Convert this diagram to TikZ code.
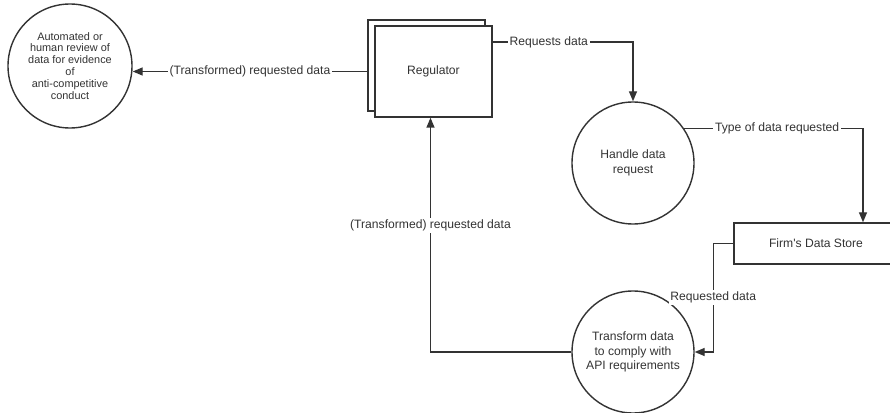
\documentclass[tikz,border=0pt]{standalone}
\usepackage{fontspec}
\setmainfont{Liberation Sans}[Ligatures=TeXOff]
\usetikzlibrary{arrows.meta,shadows}
\tikzset{node distance=2cm, auto, >={Triangle[length=2mm,width=1.6mm]}}
\tikzset{
  proc/.style={circle, draw=black!80, line width=0.8pt, align=center, inner sep=0pt, minimum size=2.44cm},
  store/.style={rectangle, draw=black!80, line width=0.8pt, fill=white},
  flow/.style={->, draw=black!80, line width=0.8pt},
  lbl/.style={fill=white, inner sep=1pt, anchor=center}
}

\begin{document}
\begin{tikzpicture}[every node/.style={font=\fontsize{6.9}{8.2}\selectfont, text=black!80}]
  \useasboundingbox (0,0) rectangle (17.8,-8.26);

  \node (R) [store, minimum width=2.34cm, minimum height=1.82cm,
    copy shadow={shadow xshift=-0.14cm, shadow yshift=0.12cm, draw=black!80, line width=0.8pt}]
    at (8.67,-1.43) {Regulator};
  \node (V) [proc, minimum size=2.48cm, font=\fontsize{6.2}{6.8}\selectfont] at (1.4,-1.32)
    {Automated or\\human review of\\data for evidence\\of\\anti-competitive\\conduct};
  \node (H) [proc] at (12.66,-3.26) {Handle data\\request};
  \node (T) [proc, below of=H, node distance=3.78cm] {Transform data\\to comply with\\API requirements};
  \node (F) [store, minimum width=3.28cm, minimum height=0.82cm] at (16.32,-4.87) {Firm's Data Store};

  \draw[flow] ([xshift=-0.14cm]R.west) -- node[lbl] {(Transformed) requested data} (V.east |- R.west);
  \draw[flow] ([yshift=0.59cm]R.east) -| node[lbl, pos=0.2] {Requests data} (H);
  \draw[flow] (H.34) -| node[lbl, pos=0.26] {Type of data requested} ([xshift=0.94cm]F.north);
  \draw[flow] (F.west) -- ++(-0.4,0) |- node[lbl, pos=0.25] {Requested data} (T);
  \draw[flow] (T) -| node[lbl, pos=0.77] {(Transformed) requested data} ([xshift=-0.06cm]R.south);
\end{tikzpicture}
\end{document}
